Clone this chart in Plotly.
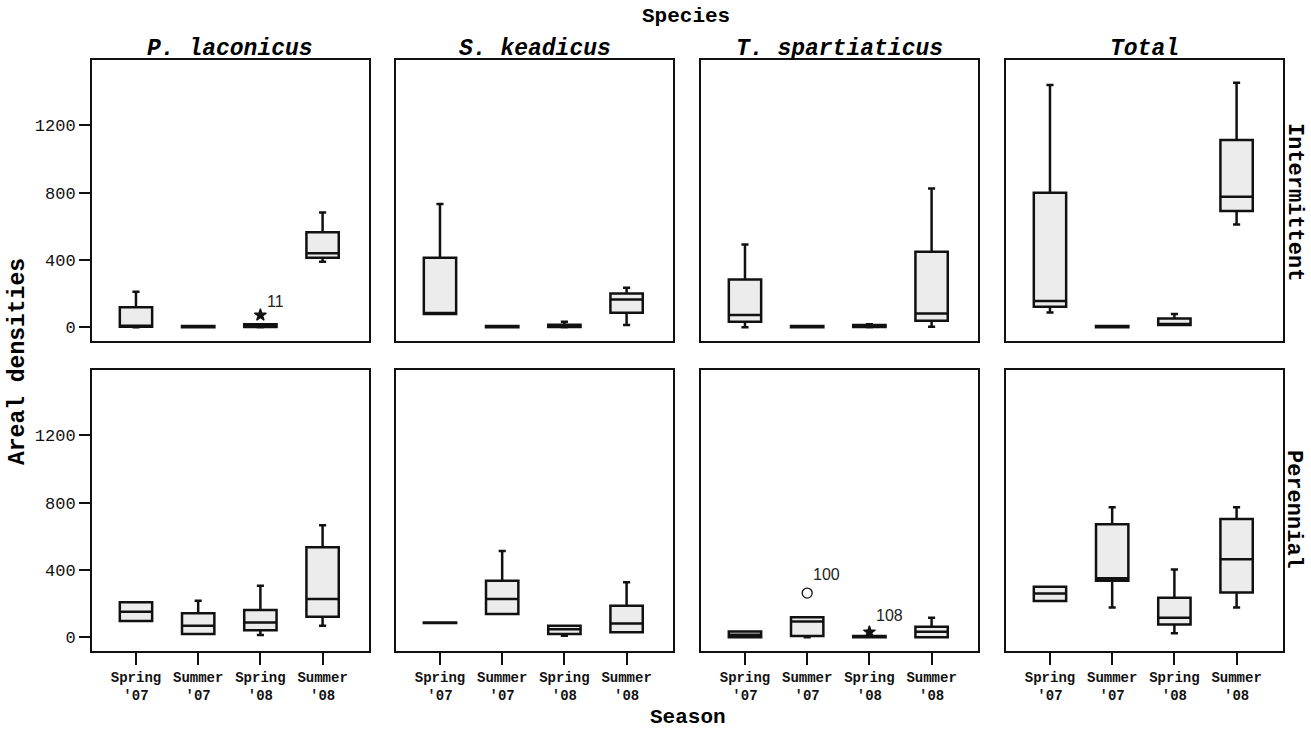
import plotly.graph_objects as go

# ---------------- data ----------------
seasons = ["Spring '07", "Summer '07", "Spring '08", "Summer '08"]
season_ticks = ["<b>Spring</b><br><b>'07</b>", "<b>Summer</b><br><b>'07</b>",
                "<b>Spring</b><br><b>'08</b>", "<b>Summer</b><br><b>'08</b>"]
species = ["P. laconicus", "S. keadicus", "T. spartiaticus", "Total"]
habitats = ["Intermittent", "Perennial"]
y_ticks = [0, 400, 800, 1200]

# Intermittent: one list per species, values per season
int_lower = [[0, 0, 0, 390], [79, 0, 0, 14], [0, 0, 0, 4], [89, 0, 14, 612]]
int_q1 = [[3, 0, 2, 414], [80, 0, 2, 87], [33, 0, 2, 39], [122, 0, 14, 691]]
int_median = [[10, 3, 8, 440], [82, 3, 8, 166], [73, 3, 6, 83], [156, 3, 20, 776]]
int_q3 = [[119, 8, 18, 565], [414, 8, 16, 202], [285, 8, 14, 450], [800, 8, 53, 1113]]
int_upper = [[212, 8, 18, 683], [733, 8, 33, 235], [493, 8, 18, 826], [1440, 8, 79, 1454]]

# Perennial
per_lower = [[97, 20, 14, 69], [85, 139, 10, 30], [0, 0, 0, 0], [216, 178, 24, 178]]
per_q1 = [[97, 20, 43, 123], [85, 139, 20, 30], [0, 8, 0, 0], [216, 337, 77, 267]]
per_median = [[152, 69, 89, 228], [87, 228, 48, 83], [15, 95, 3, 33], [261, 351, 117, 464]]
per_q3 = [[208, 143, 162, 535], [89, 337, 69, 188], [35, 119, 8, 63], [301, 673, 236, 703]]
per_upper = [[208, 218, 307, 667], [89, 513, 69, 327], [35, 119, 8, 117], [301, 773, 404, 773]]

# Outliers (SPSS style: o = outlier, * = extreme)
out_habitat = ["Intermittent", "Perennial", "Perennial"]
out_species = ["P. laconicus", "T. spartiaticus", "T. spartiaticus"]
out_season = ["Spring '08", "Summer '07", "Spring '08"]
out_value = [73, 263, 32]
out_case = ["11", "100", "108"]
out_kind = ["extreme", "outlier", "extreme"]

# ---------------- styling ----------------
W, H = 1311, 730
MONO = "Liberation Mono, Courier New, monospace"
SANS = "Liberation Sans, Arial, sans-serif"
col_px = [(92, 369), (396, 673), (701, 978), (1006, 1283)]
row_px = [(60, 341), (370, 651)]
x_range = [-0.707, 3.746]
y_range = [-81, 1589]
kind_symbol = {"extreme": "star", "outlier": "circle-open"}
kind_size = {"extreme": 9, "outlier": 10}
label_shift = {"11": (15, 14), "100": (19, 19), "108": (20, 16)}

stats = {
    "Intermittent": (int_lower, int_q1, int_median, int_q3, int_upper),
    "Perennial": (per_lower, per_q1, per_median, per_q3, per_upper),
}

fig = go.Figure()
layout = dict(
    width=W, height=H,
    margin=dict(l=0, r=0, t=0, b=0),
    paper_bgcolor="white", plot_bgcolor="white",
    showlegend=False,
    font=dict(family=MONO, color="black"),
    hovermode=False,
)

xs = list(range(len(seasons)))
annotations = []
n = 0
for r, hab in enumerate(habitats):
    lo, q1, md, q3, up = stats[hab]
    for c, sp in enumerate(species):
        n += 1
        suffix = "" if n == 1 else str(n)
        fig.add_trace(go.Box(
            x=xs, lowerfence=lo[c], q1=q1[c], median=md[c], q3=q3[c], upperfence=up[c],
            width=0.52, whiskerwidth=0.22, boxpoints=False,
            fillcolor="#ececec", line=dict(color="#111", width=2.5),
            xaxis="x" + suffix, yaxis="y" + suffix,
        ))
        # outliers
        for k in range(len(out_value)):
            if out_habitat[k] == hab and out_species[k] == sp:
                xi = seasons.index(out_season[k])
                kind = out_kind[k]
                fig.add_trace(go.Scatter(
                    x=[xi], y=[out_value[k]], mode="markers",
                    marker=dict(symbol=kind_symbol[kind], size=kind_size[kind], color="#111",
                                line=dict(color="#111", width=1.3)),
                    xaxis="x" + suffix, yaxis="y" + suffix,
                ))
                dx, dy = label_shift[out_case[k]]
                annotations.append(dict(
                    x=xi, y=out_value[k], xref="x" + suffix, yref="y" + suffix,
                    text=out_case[k], showarrow=False, xshift=dx, yshift=dy,
                    font=dict(family=SANS, size=16, color="#222"),
                ))
        x0, x1 = col_px[c]
        y0, y1 = row_px[r]
        layout["xaxis" + suffix] = dict(
            domain=[x0 / W, x1 / W], range=x_range, anchor="y" + suffix,
            showline=True, mirror=True, linecolor="#111", linewidth=2,
            showgrid=False, zeroline=False,
            tickmode="array", tickvals=xs, ticktext=season_ticks,
            ticks="outside" if r == 1 else "", ticklen=12, tickwidth=2, tickcolor="#111",
            showticklabels=(r == 1),
            tickfont=dict(family=MONO, size=14, color="#111"),
        )
        layout["yaxis" + suffix] = dict(
            domain=[1 - y1 / H, 1 - y0 / H], range=y_range, anchor="x" + suffix,
            showline=True, mirror=True, linecolor="#111", linewidth=2,
            showgrid=False, zeroline=False,
            tickmode="array", tickvals=y_ticks,
            ticks="outside" if c == 0 else "", ticklen=11, tickwidth=2, tickcolor="#111",
            showticklabels=(c == 0),
            tickfont=dict(family=MONO, size=17, color="#111"),
        )

# panel titles
for c, sp in enumerate(species):
    x0, x1 = col_px[c]
    annotations.append(dict(
        x=(x0 + x1) / 2 / W, y=1 - 49 / H, xref="paper", yref="paper",
        text="<b><i>%s</i></b>" % sp, showarrow=False,
        font=dict(family=MONO, size=23, color="black"),
        xanchor="center", yanchor="middle",
    ))

# habitat labels (right side)
for r, hab in enumerate(habitats):
    cy = [202, 509][r]
    annotations.append(dict(
        x=1294 / W, y=1 - cy / H, xref="paper", yref="paper",
        text="<b>%s</b>" % hab, showarrow=False, textangle=90,
        font=dict(family=MONO, size=22, color="black"),
        xanchor="center", yanchor="middle",
    ))

annotations += [
    dict(x=686 / W, y=1 - 16 / H, xref="paper", yref="paper", text="<b>Species</b>",
         showarrow=False, font=dict(family=MONO, size=21, color="black"),
         xanchor="center", yanchor="middle"),
    dict(x=688 / W, y=0, xref="paper", yref="paper", text="<b>Season</b>",
         showarrow=False, font=dict(family=MONO, size=21, color="black"),
         xanchor="center", yanchor="bottom", borderpad=0),
    dict(x=18 / W, y=1 - 362 / H, xref="paper", yref="paper", text="<b>Areal densities</b>",
         showarrow=False, textangle=-90, font=dict(family=MONO, size=23, color="black"),
         xanchor="center", yanchor="middle"),
]
layout["annotations"] = annotations
fig.update_layout(**layout)
fig.write_html(
    "out.html",
    config={"displayModeBar": False},
    post_script="document.body.style.margin='0';document.body.style.padding='0';"
                "document.body.style.overflow='hidden';",
)
